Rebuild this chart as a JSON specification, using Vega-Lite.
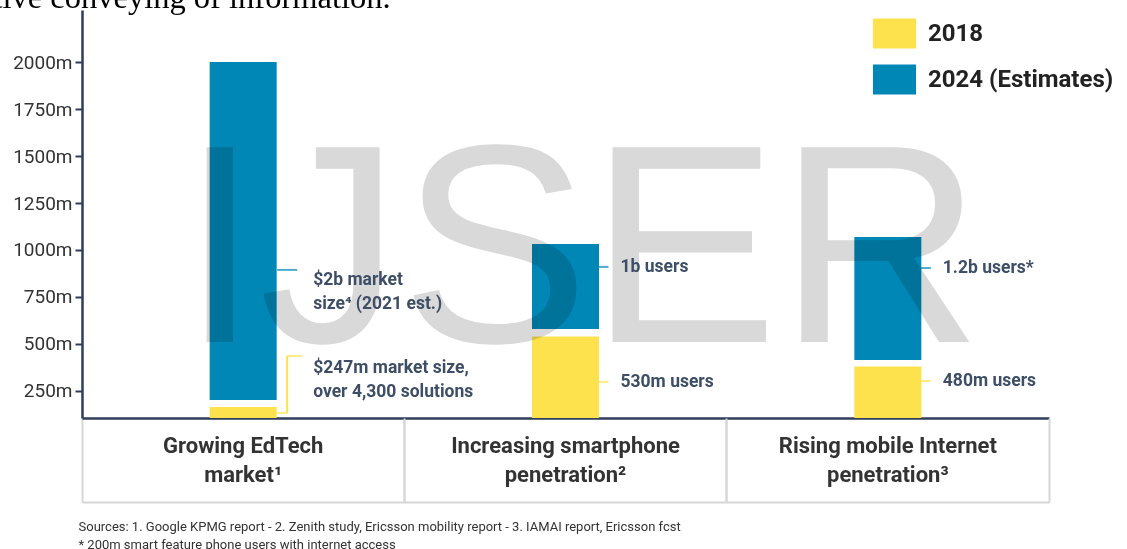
{
  "$schema": "https://vega.github.io/schema/vega-lite/v6.json",
  "autosize": {"type": "none"},
  "padding": {"left": 82, "top": 10, "right": 78, "bottom": 131},
  "width": 967,
  "height": 408,
  "background": "white",
  "config": {"view": {"stroke": null}, "font": "Roboto"},
  "datasets": {
    "bars": [
      {"category": "Growing EdTech\nmarket¹", "series": "2018", "low": 0, "high": 165},
      {"category": "Growing EdTech\nmarket¹", "series": "2024 (Estimates)", "low": 202, "high": 2000},
      {"category": "Increasing smartphone\npenetration²", "series": "2018", "low": 0, "high": 540},
      {"category": "Increasing smartphone\npenetration²", "series": "2024 (Estimates)", "low": 580, "high": 1032},
      {"category": "Rising mobile Internet\npenetration³", "series": "2018", "low": 0, "high": 380},
      {"category": "Rising mobile Internet\npenetration³", "series": "2024 (Estimates)", "low": 415, "high": 1069}
    ],
    "notes": [
      {"category": "Growing EdTech\nmarket¹", "series": "2024 (Estimates)", "note": "$2b market\nsize⁴ (2021 est.)", "at": 840, "link": 894, "foot": 894},
      {"category": "Growing EdTech\nmarket¹", "series": "2018", "note": "$247m market size,\nover 4,300 solutions", "at": 372, "link": 436, "foot": 133},
      {"category": "Increasing smartphone\npenetration²", "series": "2024 (Estimates)", "note": "1b users", "at": 910, "link": 910, "foot": 910},
      {"category": "Increasing smartphone\npenetration²", "series": "2018", "note": "530m users", "at": 298, "link": 298, "foot": 298},
      {"category": "Rising mobile Internet\npenetration³", "series": "2024 (Estimates)", "note": "1.2b users*", "at": 904, "link": 904, "foot": 904},
      {"category": "Rising mobile Internet\npenetration³", "series": "2018", "note": "480m users", "at": 303, "link": 303, "foot": 303}
    ]
  },
  "resolve": {"axis": {"x": "independent"}},
  "layer": [
    {
      "data": {"name": "bars"},
      "mark": {"type": "bar", "width": 67},
      "encoding": {
        "x": {
          "field": "category", "type": "nominal", "sort": null,
          "scale": {"domain": ["Growing EdTech\nmarket¹", "Increasing smartphone\npenetration²", "Rising mobile Internet\npenetration³"], "paddingInner": 0, "paddingOuter": 0},
          "axis": {
            "orient": "bottom",
            "domainColor": "#2f3d5a", "domainWidth": 2.5,
            "ticks": true, "bandPosition": 0, "tickSize": 84, "tickColor": "#d6d6d6", "tickWidth": 2,
            "labelAngle": 0, "labelExpr": "split(datum.label, '\\n')", "labelLimit": 0,
            "labelPadding": -67,
            "labelFont": "Roboto", "labelFontSize": 22, "labelFontWeight": "bold", "labelColor": "#333333", "labelLineHeight": 29,
            "labelAlign": "center", "labelBaseline": "top",
            "title": "tive conveying of information.",
            "titleX": -89, "titleY": -411, "titleAngle": 0, "titleAlign": "left", "titleBaseline": "alphabetic", "titleAnchor": "start",
            "titleFont": "Liberation Serif", "titleFontSize": 32.5, "titleFontWeight": "normal", "titleColor": "#000000", "titleLimit": 0
          }
        },
        "y": {
          "field": "high", "type": "quantitative",
          "scale": {"domain": [106, 2277], "clamp": true, "nice": false, "zero": false},
          "axis": {
            "title": null, "orient": "left", "values": [250, 500, 750, 1000, 1250, 1500, 1750, 2000],
            "labelExpr": "datum.value + 'm'", "grid": false,
            "domainColor": "#2f3d5a", "domainWidth": 2.5,
            "tickColor": "#2f3d5a", "tickWidth": 2, "tickSize": 7,
            "labelFont": "Roboto", "labelFontSize": 19, "labelColor": "#333333", "labelPadding": 3
          }
        },
        "y2": {"field": "low"},
        "color": {
          "field": "series", "type": "nominal",
          "scale": {"domain": ["2018", "2024 (Estimates)"], "range": ["#fde24e", "#0087b6"]},
          "legend": {
            "title": null, "orient": "none", "legendX": 791, "legendY": 2, "padding": 0,
            "symbolType": "M-1,-0.7L1,-0.7L1,0.7L-1,0.7Z", "symbolSize": 1849, "symbolStrokeWidth": 0, "symbolOpacity": 1,
            "labelFont": "Roboto", "labelFontSize": 24, "labelFontWeight": "bold", "labelColor": "#222222",
            "labelOffset": 12, "rowPadding": 9, "labelLimit": 0
          }
        }
      }
    },
    {
      "data": {"values": [{"watermark": "IJSER"}]},
      "mark": {"type": "text", "font": "Liberation Sans", "fontSize": 283, "fill": "#d9d9d9", "blend": "multiply", "align": "center", "baseline": "alphabetic", "dx": 16},
      "encoding": {
        "text": {"field": "watermark"},
        "x": {"datum": "Increasing smartphone\npenetration²", "axis": null},
        "y": {"datum": 511, "axis": {"title": null}}
      }
    },
    {
      "data": {"name": "notes"},
      "transform": [{"filter": "indexof(datum.category, 'EdTech') < 0 && datum.series != '2018'"}],
      "mark": {"type": "tick", "size": 10, "thickness": 2, "xOffset": 38, "color": "#0087b6"},
      "encoding": {
        "x": {
          "field": "category", "type": "nominal", "sort": null,
          "axis": {
            "orient": "bottom", "offset": 84,
            "domainColor": "#d6d6d6", "domainWidth": 2,
            "ticks": true, "bandPosition": 1, "tickSize": -84, "tickColor": "#d6d6d6", "tickWidth": 2,
            "labels": false,
            "title": ["Sources: 1. Google KPMG report  -  2. Zenith study, Ericsson mobility report   -   3. IAMAI report, Ericsson fcst", "* 200m smart feature phone users with internet access"],
            "titleX": -4, "titleY": 18, "titleAnchor": "start", "titleAlign": "left", "titleBaseline": "top",
            "titleFont": "Roboto", "titleFontSize": 13, "titleFontWeight": "normal", "titleColor": "#333333", "titleLineHeight": 18, "titleLimit": 0
          }
        },
        "y": {"field": "link", "type": "quantitative", "axis": {"title": null}}
      }
    },
    {
      "data": {"name": "notes"},
      "transform": [{"filter": "indexof(datum.category, 'EdTech') < 0 && datum.series == '2018'"}],
      "mark": {"type": "tick", "size": 10, "thickness": 2, "xOffset": 38, "color": "#fde24e"},
      "encoding": {
        "x": {"field": "category", "type": "nominal", "sort": null, "axis": null},
        "y": {"field": "link", "type": "quantitative", "axis": {"title": null}}
      }
    },
    {
      "data": {"name": "notes"},
      "transform": [{"filter": "indexof(datum.category, 'EdTech') >= 0 && datum.series != '2018'"}],
      "mark": {"type": "tick", "size": 20, "thickness": 2, "xOffset": 44, "color": "#0087b6"},
      "encoding": {
        "x": {"field": "category", "type": "nominal", "sort": null, "axis": null},
        "y": {"field": "link", "type": "quantitative", "axis": {"title": null}}
      }
    },
    {
      "data": {"name": "notes"},
      "transform": [{"filter": "indexof(datum.category, 'EdTech') >= 0 && datum.series == '2018'"}],
      "mark": {"type": "tick", "size": 15, "thickness": 2, "xOffset": 51.5, "color": "#fde24e"},
      "encoding": {
        "x": {"field": "category", "type": "nominal", "sort": null, "axis": null},
        "y": {"field": "link", "type": "quantitative", "axis": {"title": null}}
      }
    },
    {
      "data": {"name": "notes"},
      "transform": [{"filter": "indexof(datum.category, 'EdTech') >= 0 && datum.series == '2018'"}],
      "mark": {"type": "rule", "strokeWidth": 2, "xOffset": 44, "color": "#fde24e"},
      "encoding": {
        "x": {"field": "category", "type": "nominal", "sort": null, "axis": null},
        "y": {"field": "link", "type": "quantitative", "axis": {"title": null}},
        "y2": {"field": "foot"}
      }
    },
    {
      "data": {"name": "notes"},
      "transform": [{"filter": "indexof(datum.category, 'EdTech') >= 0 && datum.series == '2018'"}],
      "mark": {"type": "tick", "size": 11, "thickness": 2, "xOffset": 39, "color": "#fde24e"},
      "encoding": {
        "x": {"field": "category", "type": "nominal", "sort": null, "axis": null},
        "y": {"field": "foot", "type": "quantitative", "axis": {"title": null}}
      }
    },
    {
      "data": {"name": "notes"},
      "transform": [{"filter": "indexof(datum.category, 'EdTech') >= 0"}],
      "mark": {"type": "text", "align": "left", "baseline": "middle", "dx": 70, "lineBreak": "\n", "lineHeight": 24, "font": "Roboto", "fontSize": 17.5, "fontWeight": "bold", "fill": "#3d4e66"},
      "encoding": {
        "x": {"field": "category", "type": "nominal", "sort": null, "axis": null},
        "y": {"field": "at", "type": "quantitative", "axis": {"title": null}},
        "text": {"field": "note"}
      }
    },
    {
      "data": {"name": "notes"},
      "transform": [{"filter": "indexof(datum.category, 'EdTech') < 0"}],
      "mark": {"type": "text", "align": "left", "baseline": "middle", "dx": 55, "font": "Roboto", "fontSize": 17.5, "fontWeight": "bold", "fill": "#3d4e66"},
      "encoding": {
        "x": {"field": "category", "type": "nominal", "sort": null, "axis": null},
        "y": {"field": "at", "type": "quantitative", "axis": {"title": null}},
        "text": {"field": "note"}
      }
    }
  ]
}
